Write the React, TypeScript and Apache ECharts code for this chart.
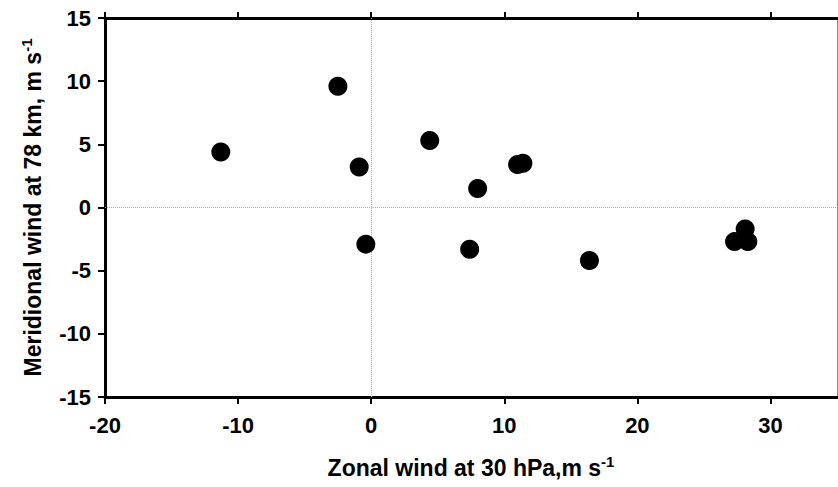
import React, { useEffect, useRef } from "react";
import * as echarts from "echarts";

const zonalWind = [-11.3, -2.5, -0.9, -0.4, 4.4, 8.0, 11.0, 11.4, 7.4, 16.4, 27.3, 28.3, 28.1];
const meridionalWind = [4.4, 9.6, 3.2, -2.9, 5.3, 1.5, 3.4, 3.5, -3.3, -4.2, -2.7, -2.7, -1.7];
const xTicks = [-20, -10, 0, 10, 20, 30];
const yTicks = [-15, -10, -5, 0, 5, 10, 15];

const FONT = "'Liberation Sans', Arial, sans-serif";

export default function App() {
  const ref = useRef<HTMLDivElement>(null);
  useEffect(() => {
    if (!ref.current) return;
    const chart = echarts.init(ref.current, null, { renderer: "svg", width: 838, height: 487 });
    const points = zonalWind.map((x, i) => [x, meridionalWind[i]]);
    const labelStyle = { color: "#000", fontFamily: FONT, fontWeight: "bold" as const, fontSize: 22 };
    const titleRich = {
      sup: { fontFamily: FONT, fontWeight: "bold" as const, fontSize: 15, color: "#000", verticalAlign: "top" as const, lineHeight: 28 },
    };
    chart.setOption({
      animation: false,
      backgroundColor: "#fff",
      grid: { left: 105, top: 18, width: 732, height: 385, containLabel: false },
      xAxis: [
        {
          type: "value",
          min: -20,
          max: 35,
          interval: 10,
          position: "bottom",
          name: "Zonal wind at 30 hPa,m s{sup|-1}",
          nameLocation: "middle",
          nameGap: 57,
          nameTextStyle: { ...labelStyle, fontSize: 23, lineHeight: 28, rich: titleRich },
          axisLine: { show: true, onZero: false, lineStyle: { color: "#000", width: 3 } },
          axisTick: { show: true, inside: false, length: 7, lineStyle: { color: "#000", width: 2 }, customValues: xTicks },
          axisLabel: { ...labelStyle, margin: 17, customValues: xTicks },
          splitLine: { show: false },
        },
        {
          type: "value",
          min: -20,
          max: 35,
          interval: 10,
          position: "top",
          axisLine: { show: true, onZero: false, lineStyle: { color: "#000", width: 3 } },
          axisTick: { show: true, inside: false, length: 6, lineStyle: { color: "#000", width: 2 }, customValues: xTicks },
          axisLabel: { show: false },
          splitLine: { show: false },
        },
      ],
      yAxis: [
        {
          type: "value",
          min: -15,
          max: 15,
          interval: 5,
          position: "left",
          name: "Meridional wind at 78 km, m s{sup|-1}",
          nameLocation: "middle",
          nameGap: 58,
          nameTextStyle: { ...labelStyle, fontSize: 23, lineHeight: 28, rich: titleRich },
          axisLine: { show: true, onZero: false, lineStyle: { color: "#000", width: 3 } },
          axisTick: { show: true, inside: false, length: 7, lineStyle: { color: "#000", width: 2 }, customValues: yTicks },
          axisLabel: { ...labelStyle, margin: 14, customValues: yTicks },
          splitLine: { show: false },
        },
        {
          type: "value",
          min: -15,
          max: 15,
          interval: 5,
          position: "right",
          axisLine: { show: true, onZero: false, lineStyle: { color: "#888", width: 1 } },
          axisTick: { show: false },
          axisLabel: { show: false },
          splitLine: { show: false },
        },
      ],
      series: [
        {
          type: "scatter",
          xAxisIndex: 0,
          yAxisIndex: 0,
          data: points,
          symbol: "circle",
          symbolSize: 19,
          itemStyle: { color: "#000", opacity: 1 },
          z: 5,
          markLine: {
            silent: true,
            symbol: "none",
            label: { show: false },
            lineStyle: { color: "#aaa", width: 1, type: [1, 1] },
            data: [{ xAxis: 0 }, { yAxis: 0 }],
            z: 1,
          },
        },
      ],
    });
    return () => chart.dispose();
  }, []);
  return (
    <div
      ref={ref}
      style={{ position: "fixed", left: 0, top: 0, width: 838, height: 487, background: "#fff" }}
    />
  );
}
